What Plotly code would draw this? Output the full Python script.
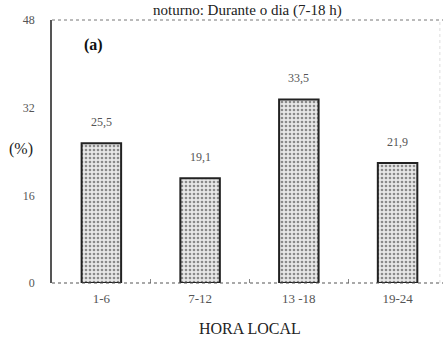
import plotly.graph_objects as go

categories = ["1-6", "7-12", "13-18", "19-24"]
values = [25.5, 19.1, 33.5, 21.9]
value_labels = ["25,5", "19,1", "33,5", "21,9"]
tick_labels = ["1-6", "7-12", "13 -18", "19-24"]
y_ticks = [0, 16, 32, 48]

serif = "Liberation Serif, DejaVu Serif, serif"

fig = go.Figure()
fig.add_trace(go.Bar(
    x=categories, y=values, width=0.4,
    marker=dict(color="#dcdcdc", line=dict(color="#222222", width=2),
                pattern=dict(shape=".", fgcolor="#8a8a8a", bgcolor="#e8e8e8", size=4, solidity=0.35)),
    cliponaxis=False, hoverinfo="skip",
))

annotations = [
    dict(x=c, y=v, text=t, xref="x", yref="y", yanchor="middle", yshift=21,
         showarrow=False, font=dict(family=serif, size=12, color="#555555"))
    for c, v, t in zip(categories, values, value_labels)
]
annotations += [
    dict(text="noturno: Durante o dia (7-18 h)", xref="paper", yref="paper",
         x=0.5, y=1.0, yshift=20, xanchor="center", yanchor="top", showarrow=False,
         font=dict(family=serif, size=15, color="#222222")),
    dict(text="<b>(a)</b>", xref="paper", yref="paper", x=0.105, y=0.905,
         xanchor="center", yanchor="middle", showarrow=False,
         font=dict(family=serif, size=16, color="#111111")),
    dict(text="(%)", xref="paper", yref="paper", x=-0.08, y=0.51,
         xanchor="center", yanchor="middle", showarrow=False,
         font=dict(family=serif, size=16, color="#222222")),
    dict(text="HORA LOCAL", xref="paper", yref="paper", x=0.506, y=0, yshift=-45,
         xanchor="center", yanchor="middle", showarrow=False,
         font=dict(family=serif, size=16, color="#222222")),
]

fig.update_layout(
    template="none",
    width=443, height=340,
    margin=dict(l=52, r=0, t=20, b=57),
    paper_bgcolor="white", plot_bgcolor="white",
    showlegend=False,
    xaxis=dict(type="category", range=[-0.5, 3.46], tickvals=categories, ticktext=tick_labels,
               color="#555555",
               tickfont=dict(family=serif, size=13, color="#555555"),
               ticks="inside", ticklen=4, tickcolor="#888888", tickson="boundaries",
               ticklabelstandoff=6,
               showgrid=False, showline=False, zeroline=False),
    yaxis=dict(range=[0, 48], tickvals=y_ticks, ticktext=[str(v) for v in y_ticks],
               color="#555555",
               tickfont=dict(family=serif, size=12, color="#555555"),
               ticks="", ticklabelstandoff=13,
               showgrid=False, zeroline=False,
               showline=True, linecolor="#555555", linewidth=1.5),
    shapes=[
        dict(type="line", xref="paper", yref="paper", x0=0, x1=1, y0=1, y1=1,
             line=dict(color="#777777", width=1, dash="dot")),
        dict(type="line", xref="paper", yref="paper", x0=0, x1=1, y0=0, y1=0,
             line=dict(color="#555555", width=1.2, dash="dot")),
        dict(type="line", xref="paper", yref="paper", x0=0.992, x1=0.992, y0=0, y1=1,
             line=dict(color="#dddddd", width=1, dash="dot")),
    ],
    annotations=annotations,
)

fig.write_html("out.html", config={"displayModeBar": False},
               post_script="document.body.style.margin='0';")
